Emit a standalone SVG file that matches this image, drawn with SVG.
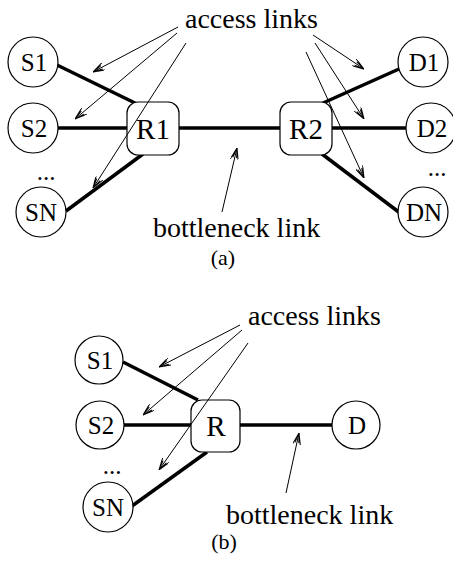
<svg xmlns="http://www.w3.org/2000/svg" width="453" height="566" viewBox="0 0 453 566">
  <style>
    .node { fill: #fff; stroke: #000; stroke-width: 1.2; }
    .lbl { font-family: "Liberation Serif", "Times New Roman", serif; fill: #000; text-anchor: middle; }
    .sl { font-size: 25px; }
    .rl { font-size: 29px; }
    .cap { font-family: "Liberation Serif", "Times New Roman", serif; font-size: 28px; fill: #000; }
    .sub { font-family: "Liberation Serif", "Times New Roman", serif; font-size: 22px; fill: #000; text-anchor: middle; }
    .link { stroke: #000; stroke-width: 3.5; fill: none; }
    .ptr { stroke: #000; stroke-width: 1; fill: none; marker-end: url(#open); }
  </style>
  <defs>
    <marker id="open" viewBox="0 0 12 8" refX="12" refY="4" markerWidth="12" markerHeight="8" markerUnits="userSpaceOnUse" orient="auto">
      <path d="M0,0 L12,4 L0,8 M2,2 L12,4 L2,6" fill="none" stroke="#000" stroke-width="1"/>
    </marker>
  </defs>
  <rect width="453" height="566" fill="#fff"/>

  <!-- (a) dumbbell topology -->
  <g id="links-a">
    <line class="link" x1="57" y1="65" x2="135" y2="103"/>
    <line class="link" x1="58" y1="128" x2="127" y2="128"/>
    <line class="link" x1="66" y1="211" x2="143" y2="154"/>
    <line class="link" x1="179" y1="128" x2="280" y2="128"/>
    <line class="link" x1="323" y1="103" x2="399" y2="69"/>
    <line class="link" x1="332" y1="128" x2="406" y2="128"/>
    <line class="link" x1="322" y1="154" x2="400" y2="213"/>
  </g>
  <g id="S1a"><circle class="node" cx="33" cy="62" r="25"/><text class="lbl sl" x="34" y="71">S1</text></g>
  <g id="S2a"><circle class="node" cx="33" cy="128" r="25"/><text class="lbl sl" x="34" y="137">S2</text></g>
  <text class="lbl sl" x="46" y="180">...</text>
  <g id="SNa"><circle class="node" cx="41" cy="212" r="25"/><text class="lbl sl" x="41" y="221">SN</text></g>
  <g id="R1"><rect class="node" x="127" y="102" width="52" height="53" rx="11"/><text class="lbl rl" x="153" y="139">R1</text></g>
  <g id="R2"><rect class="node" x="280" y="102" width="52" height="53" rx="11"/><text class="lbl rl" x="306" y="139">R2</text></g>
  <g id="D1"><circle class="node" cx="423" cy="62" r="25"/><text class="lbl sl" x="424" y="71">D1</text></g>
  <g id="D2"><circle class="node" cx="431" cy="128" r="25"/><text class="lbl sl" x="432" y="137">D2</text></g>
  <text class="lbl sl" x="437" y="176">...</text>
  <g id="DN"><circle class="node" cx="423" cy="212" r="25"/><text class="lbl sl" x="424" y="221">DN</text></g>
  <g id="pointers-a">
    <line class="ptr" x1="178" y1="27" x2="93" y2="72"/>
    <line class="ptr" x1="177" y1="33" x2="75" y2="119"/>
    <line class="ptr" x1="186" y1="43" x2="93" y2="188"/>
    <line class="ptr" x1="313" y1="35" x2="364" y2="69"/>
    <line class="ptr" x1="315" y1="43" x2="364" y2="119"/>
    <line class="ptr" x1="306" y1="52" x2="364" y2="178"/>
    <line class="ptr" x1="222" y1="212" x2="237" y2="148"/>
  </g>
  <text class="cap" x="185" y="28">access links</text>
  <text class="cap" x="153" y="237">bottleneck link</text>
  <text class="sub" x="223" y="265">(a)</text>

  <!-- (b) single router topology -->
  <g id="links-b">
    <line class="link" x1="123" y1="362" x2="198" y2="400"/>
    <line class="link" x1="124" y1="425" x2="191" y2="425"/>
    <line class="link" x1="132" y1="506" x2="207" y2="452"/>
    <line class="link" x1="240" y1="425" x2="332" y2="425"/>
  </g>
  <g id="S1b"><circle class="node" cx="99" cy="360" r="24"/><text class="lbl sl" x="100" y="369">S1</text></g>
  <g id="S2b"><circle class="node" cx="100" cy="425" r="24"/><text class="lbl sl" x="101" y="434">S2</text></g>
  <text class="lbl sl" x="112" y="474">...</text>
  <g id="SNb"><circle class="node" cx="108" cy="507" r="25"/><text class="lbl sl" x="108" y="516">SN</text></g>
  <g id="R"><rect class="node" x="191" y="400" width="49" height="52" rx="11"/><text class="lbl rl" x="216" y="436">R</text></g>
  <g id="D"><circle class="node" cx="356" cy="425" r="24"/><text class="lbl sl" x="357" y="434">D</text></g>
  <g id="pointers-b">
    <line class="ptr" x1="240" y1="325" x2="159" y2="367"/>
    <line class="ptr" x1="242" y1="330" x2="143" y2="415"/>
    <line class="ptr" x1="248" y1="343" x2="159" y2="470"/>
    <line class="ptr" x1="286" y1="493" x2="299" y2="433"/>
  </g>
  <text class="cap" x="248" y="325">access links</text>
  <text class="cap" x="226" y="524">bottleneck link</text>
  <text class="sub" x="224" y="549">(b)</text>
</svg>
